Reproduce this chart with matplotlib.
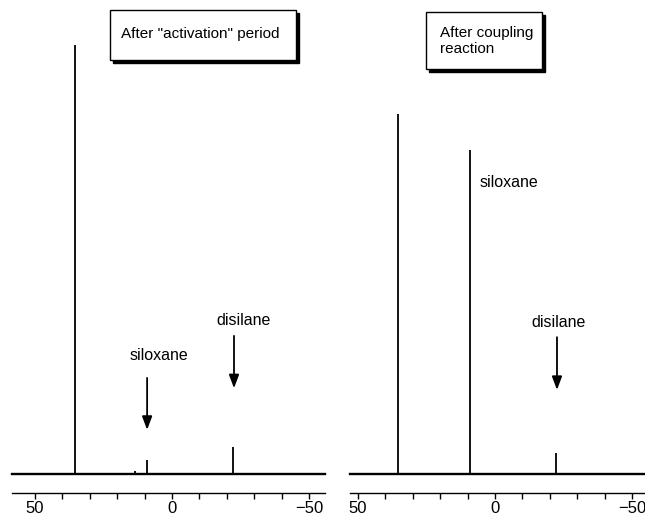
import matplotlib.pyplot as plt
from matplotlib.patches import Rectangle

plt.rcParams['font.family'] = ['Liberation Sans', 'DejaVu Sans']

# 29Si NMR spectra, shift in ppm and relative intensity
ppm_activation = [35.5, 13.5, 9.0, -22.3]
int_activation = [100.0, 0.6, 3.3, 6.2]

ppm_coupling = [35.5, 9.0, -22.3]
int_coupling = [84.0, 75.5, 4.8]

tick_major = [50, 0, -50]
tick_minor = [40, 30, 20, 10, -10, -20, -30, -40]

W, H = 645, 517


def fx(px):
    return px / W


def fy(py):
    return 1 - py / H


fig = plt.figure(figsize=(6.45, 5.17), dpi=100)

ax_l = fig.add_axes([fx(12), fy(493), fx(325) - fx(12), fy(0) - fy(493)])
ax_r = fig.add_axes([fx(350), fy(493), fx(645) - fx(350), fy(0) - fy(493)])


def draw_spectrum(ax, ppm, inten, xlim):
    ax.set_xlim(*xlim)
    ax.set_ylim(-4.43, 110.5)
    ax.plot(list(xlim), [0, 0], color='black', lw=1.7, clip_on=False)
    ax.vlines(ppm, 0, inten, color='black', lw=1.3)
    for s in ['left', 'right', 'top']:
        ax.spines[s].set_visible(False)
    ax.spines['bottom'].set_linewidth(1.0)
    ax.set_yticks([])
    ax.set_xticks(tick_major)
    ax.set_xticks(tick_minor, minor=True)
    ax.set_xticklabels(['50', '0', '\u221250'])
    ax.tick_params(axis='x', which='both', direction='out', length=4, width=1, pad=1.5, labelsize=12)


draw_spectrum(ax_l, ppm_activation, int_activation, (58.4, -55.8))
draw_spectrum(ax_r, ppm_coupling, int_coupling, (52.9, -54.7))

arrow = dict(arrowstyle='-|>,head_length=0.8,head_width=0.3', color='black', lw=1.3, shrinkA=0, shrinkB=0)

# left panel labels
ax_l.text(4.8, 27.7, 'siloxane', ha='center', va='center', fontsize=11.5)
ax_l.annotate('', xy=(9.1, 10.3), xytext=(9.1, 22.4), arrowprops=arrow)
ax_l.text(-26.0, 35.7, 'disilane', ha='center', va='center', fontsize=11.5)
ax_l.annotate('', xy=(-22.6, 20.0), xytext=(-22.6, 32.2), arrowprops=arrow)

# right panel labels
ax_r.text(-5.1, 68.0, 'siloxane', ha='center', va='center', fontsize=11.5)
ax_r.text(-23.0, 35.4, 'disilane', ha='center', va='center', fontsize=11.5)
ax_r.annotate('', xy=(-22.6, 19.6), xytext=(-22.6, 31.9), arrowprops=arrow)


def title_box(x0, y0, x1, y1, lines, tx, ty):
    shadow = Rectangle((fx(x0 + 3), fy(y1 + 3)), fx(x1 - x0), fy(y0) - fy(y1),
                       transform=fig.transFigure, facecolor='black', edgecolor='black')
    box = Rectangle((fx(x0), fy(y1)), fx(x1 - x0), fy(y0) - fy(y1),
                    transform=fig.transFigure, facecolor='white', edgecolor='black', lw=1.0)
    fig.add_artist(shadow)
    fig.add_artist(box)
    fig.text(fx(tx), fy(ty), lines, ha='left', va='center', fontsize=11, linespacing=1.25)


title_box(110, 10, 296, 60, 'After "activation" period', 121, 34)
title_box(426, 12, 542, 69, 'After coupling\nreaction', 440, 41)

fig.savefig('out.png', dpi=100)
